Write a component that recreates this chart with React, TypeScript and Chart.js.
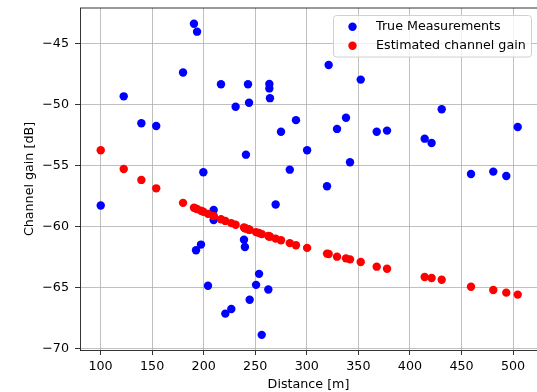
import React, { useEffect, useRef } from "react";
import { Chart, registerables } from "chart.js";

Chart.register(...registerables);

const distances = [
  100.2, 122.5, 139.6, 154.0, 180.0, 190.6, 193.6, 192.6, 197.4, 199.7,
  204.2, 209.7, 209.7, 216.8, 221.0, 226.8, 231.0, 239.1, 240.0, 241.0,
  243.0, 244.0, 244.6, 250.8, 253.7, 256.3, 262.7, 263.7, 263.7, 264.3,
  269.8, 275.0, 283.5, 289.5, 300.3, 319.6, 321.2, 329.3, 338.0, 341.9,
  352.3, 367.8, 377.8, 414.3, 421.0, 430.8, 459.2, 480.8, 493.4, 504.5,
];

const trueGain = [
  -58.3, -49.35, -51.56, -51.78, -47.4, -43.4, -44.05, -61.97, -61.5, -55.57,
  -64.88, -58.66, -59.48, -48.36, -67.16, -66.78, -50.2, -61.1, -61.7, -54.13,
  -48.36, -49.87, -66.02, -64.8, -63.9, -68.9, -65.18, -48.34, -48.7, -49.5,
  -58.22, -52.25, -55.36, -51.3, -53.77, -56.72, -46.78, -52.02, -51.1, -54.75,
  -47.98, -52.25, -52.16, -52.82, -53.17, -50.41, -55.71, -55.52, -55.88, -51.86,
];

const estGain = [
  -53.77, -55.3, -56.2, -56.89, -58.08, -58.48, -58.59, -58.55, -58.73, -58.81,
  -58.98, -59.17, -59.17, -59.42, -59.56, -59.74, -59.88, -60.1, -60.16, -60.18,
  -60.23, -60.28, -60.29, -60.48, -60.55, -60.64, -60.8, -60.83, -60.83, -60.85,
  -61.01, -61.15, -61.38, -61.55, -61.77, -62.24, -62.27, -62.49, -62.63, -62.71,
  -62.93, -63.31, -63.48, -64.16, -64.24, -64.38, -64.95, -65.22, -65.44, -65.6,
];

const legendLabels = ["True Measurements", "Estimated channel gain"];
const xTitle = "Distance [m]";
const yTitle = "Channel gain [dB]";

const FONT = "DejaVu Sans";
const FS = 12.7;

const framePlugin = {
  id: "mplFrame",
  afterDraw(chart: any) {
    const { ctx, chartArea } = chart;
    ctx.save();
    // top spine
    ctx.strokeStyle = "#000";
    ctx.lineWidth = 0.8;
    ctx.beginPath();
    ctx.moveTo(chartArea.left, chartArea.top);
    ctx.lineTo(chartArea.right, chartArea.top);
    ctx.stroke();

    // legend
    const lx = 333.5, ly = 15.5, lw = 198, lh = 41.5, r = 3;
    ctx.beginPath();
    ctx.moveTo(lx + r, ly);
    ctx.lineTo(lx + lw - r, ly);
    ctx.quadraticCurveTo(lx + lw, ly, lx + lw, ly + r);
    ctx.lineTo(lx + lw, ly + lh - r);
    ctx.quadraticCurveTo(lx + lw, ly + lh, lx + lw - r, ly + lh);
    ctx.lineTo(lx + r, ly + lh);
    ctx.quadraticCurveTo(lx, ly + lh, lx, ly + lh - r);
    ctx.lineTo(lx, ly + r);
    ctx.quadraticCurveTo(lx, ly, lx + r, ly);
    ctx.closePath();
    ctx.fillStyle = "rgba(255,255,255,0.8)";
    ctx.fill();
    ctx.strokeStyle = "#d0d0d0";
    ctx.lineWidth = 1;
    ctx.stroke();

    const colors = ["#0000ff", "#ff0000"];
    const rows = [26.7, 45.7];
    ctx.font = `${FS}px "${FONT}"`;
    ctx.textBaseline = "middle";
    ctx.textAlign = "left";
    for (let i = 0; i < 2; i++) {
      ctx.beginPath();
      ctx.arc(352.5, rows[i], 4.2, 0, Math.PI * 2);
      ctx.fillStyle = colors[i];
      ctx.fill();
      ctx.fillStyle = "#000";
      ctx.fillText(legendLabels[i], 376, rows[i]);
    }
    ctx.restore();
  },
};

export default function App() {
  const ref = useRef<HTMLCanvasElement | null>(null);

  useEffect(() => {
    if (!ref.current) return;
    const chart = new Chart(ref.current, {
      type: "scatter",
      data: {
        datasets: [
          {
            label: legendLabels[0],
            data: distances.map((d, i) => ({ x: d, y: trueGain[i] })),
            backgroundColor: "#0000ff",
            borderWidth: 0,
            pointRadius: 4.2,
            order: 1,
          },
          {
            label: legendLabels[1],
            data: distances.map((d, i) => ({ x: d, y: estGain[i] })),
            backgroundColor: "#ff0000",
            borderWidth: 0,
            pointRadius: 4.2,
            order: 0,
          },
        ],
      },
      options: {
        responsive: false,
        animation: false,
        layout: { autoPadding: false, padding: { top: 8, left: 0, right: 0, bottom: 0 } },
        plugins: {
          legend: { display: false },
          tooltip: { enabled: false },
        },
        scales: {
          x: {
            type: "linear",
            min: 80.1,
            max: 523.2,
            afterFit: (s: any) => {
              s.height = 42;
              s.paddingLeft = 0;
              s.paddingRight = 0;
            },
            ticks: {
              stepSize: 50,
              includeBounds: false,
              color: "#000",
              padding: 4,
              maxRotation: 0,
              font: { family: FONT, size: FS },
            },
            grid: {
              color: "#b0b0b0",
              lineWidth: 0.8,
              tickColor: "#000",
              tickLength: 5,
            },
            border: { display: true, color: "#000", width: 0.8 },
            title: {
              display: true,
              text: xTitle,
              color: "#000",
              font: { family: FONT, size: FS },
              padding: { top: 0, bottom: 0 },
            },
          },
          y: {
            type: "linear",
            min: -70.14,
            max: -42.11,
            afterFit: (s: any) => {
              s.width = 80;
              s.paddingTop = 0;
              s.paddingBottom = 0;
            },
            ticks: {
              stepSize: 5,
              includeBounds: false,
              color: "#000",
              padding: 6,
              font: { family: FONT, size: FS },
              callback: (v: any) => String(v).replace("-", "\u2212"),
            },
            grid: {
              color: "#b0b0b0",
              lineWidth: 0.8,
              tickColor: "#000",
              tickLength: 5,
            },
            border: { display: true, color: "#000", width: 0.8 },
            title: {
              display: true,
              text: yTitle,
              color: "#000",
              font: { family: FONT, size: FS },
              padding: { top: 22, bottom: 0 },
            },
          },
        },
      },
      plugins: [framePlugin],
    });
    return () => chart.destroy();
  }, []);

  return (
    <div style={{ position: "absolute", left: 0, top: 0, width: 537, height: 392, background: "#fff" }}>
      <canvas ref={ref} width={537} height={392} style={{ width: 537, height: 392, display: "block" }} />
    </div>
  );
}
